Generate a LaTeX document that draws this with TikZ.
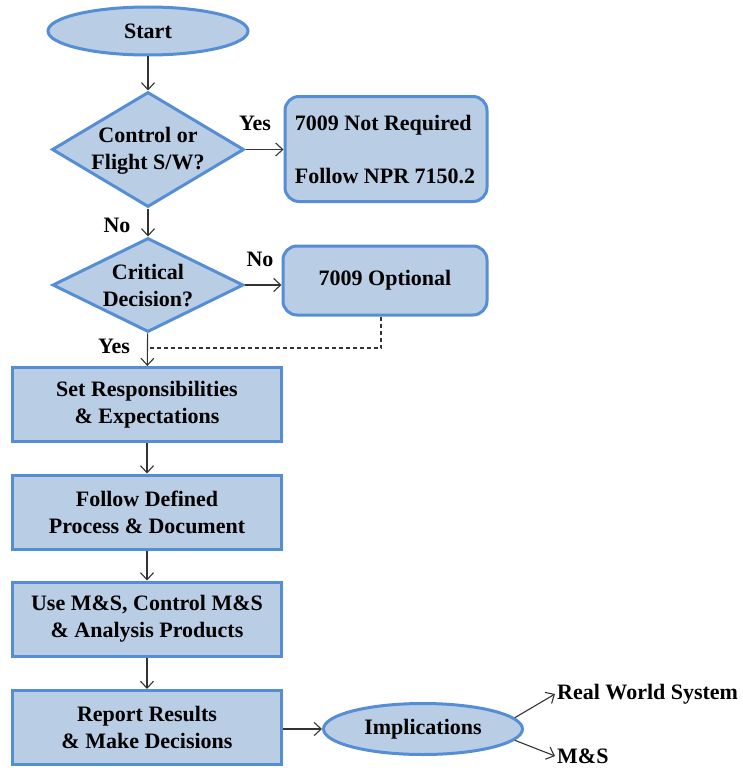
\documentclass[tikz,border=0pt]{standalone}
\usepackage{fontspec}
\setmainfont{Liberation Serif}[BoldFont={Liberation Serif Bold}]
\usetikzlibrary{shapes.geometric,arrows.meta}
\definecolor{boxfill}{HTML}{B9CDE5}
\definecolor{boxline}{HTML}{558ED5}
\definecolor{conn}{HTML}{333333}
\tikzset{
  base/.style={draw=boxline, fill=boxfill, line width=3pt, inner sep=0pt, font=\rmfamily\bfseries\fontsize{22}{27}\selectfont, align=center},
  oval/.style={base, ellipse},
  dia/.style={base, diamond},
  rbox/.style={base, rectangle, rounded corners=14pt},
  pbox/.style={base, rectangle, minimum width=269pt, minimum height=74pt},
  txt/.style={font=\rmfamily\bfseries\fontsize{22}{27}\selectfont, align=center, inner sep=2pt},
  conn/.style={draw=conn, line width=1.1pt, -{Straight Barb[length=7pt,width=13pt,line width=1.1pt]}},
  dconn/.style={draw=conn, line width=1.1pt, dash pattern=on 4pt off 3pt}
}
\begin{document}
\begin{tikzpicture}[x=1pt,y=-1pt]
\useasboundingbox (0,0) rectangle (743,768);

\node[oval, minimum width=200pt, minimum height=48pt] (start) at (148,31) {Start};

\node[dia, minimum width=192pt, minimum height=115pt] (d1) at (148,149.5) {};
\node[txt] (d1t) at (148,151) {Control or\\Flight S/W?};

\node[rbox, minimum width=202pt, minimum height=105pt] (b1) at (386,149) {};
\node[txt, align=left] (b1t) at (385,150) {7009 Not Required\\[26pt]Follow NPR 7150.2};

\node[dia, minimum width=191pt, minimum height=94pt] (d2) at (148,285) {};
\node[txt] (d2t) at (148,286) {Critical\\Decision?};

\node[rbox, minimum width=204pt, minimum height=69pt] (b2) at (385,280.5) {7009 Optional};

\node[pbox] (p1) at (147,404.5) {Set Responsibilities\\\& Expectations};
\node[pbox] (p2) at (147,512) {Follow Defined\\Process \& Document};
\node[pbox] (p3) at (147,619) {Use M\&S, Control M\&S\\\& Analysis Products};
\node[pbox] (p4) at (147,727.5) {Report Results\\\& Make Decisions};

\node[oval, minimum width=199pt, minimum height=51pt] (impl) at (423,729) {Implications};

\node[txt, anchor=west] (rws) at (555,694) {Real World System};
\node[txt, anchor=west] (ms) at (555,756) {M\&S};

% labels
\node[txt] (yes1) at (255,123) {Yes};
\node[txt] (no1) at (117,225) {No};
\node[txt] (no2) at (260,259) {No};
\node[txt] (yes2) at (114,346) {Yes};

% connectors
\draw[conn] (start) -- (d1);
\draw[conn] (d1.east) -- (d1.east -| b1.west);
\draw[conn] (d1) -- (d2);
\draw[conn] (d2.east) -- (d2.east -| b2.west);
\draw[conn] (d2) -- (p1);
\coordinate (dj) at (381,348);
\draw[dconn] (b2.south -| dj) -- (dj) -- (dj -| p1.north);
\draw[conn] (p1) -- (p2);
\draw[conn] (p2) -- (p3);
\draw[conn] (p3) -- (p4);
\draw[conn] (p4.east |- impl.west) -- (impl.west);
\draw[conn] (impl.7) -- (rws.west);
\draw[conn] (impl.-7) -- (ms.west);
\end{tikzpicture}
\end{document}
